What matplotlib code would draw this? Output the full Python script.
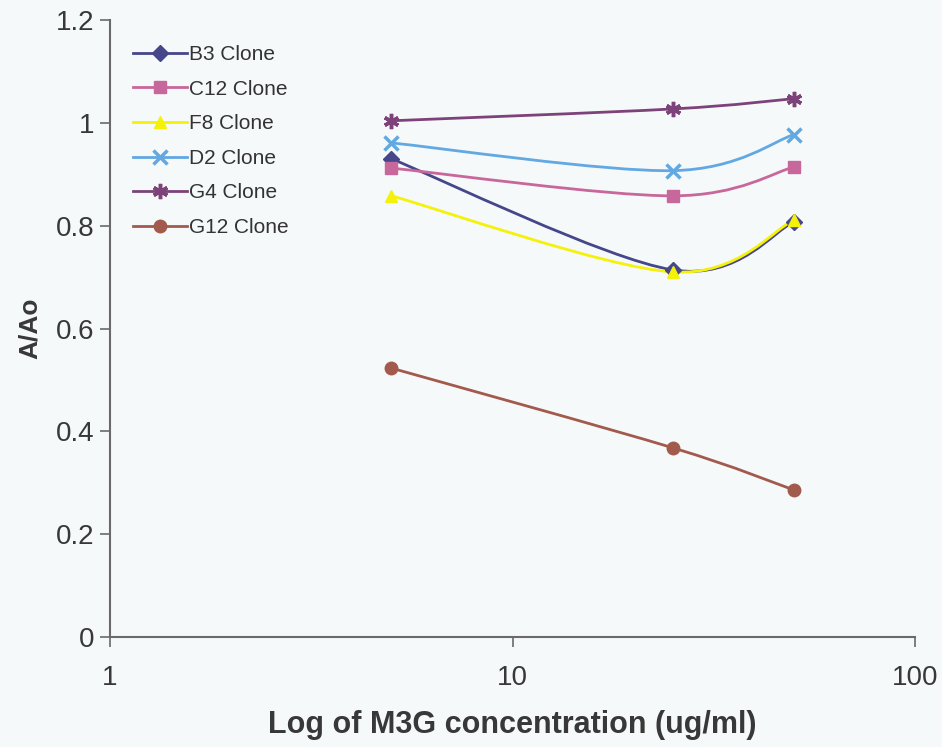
import numpy as np
import matplotlib.pyplot as plt
from matplotlib.path import Path
from matplotlib.patches import PathPatch
from matplotlib.lines import Line2D
from matplotlib.ticker import FixedLocator, NullLocator

plt.rcParams['font.family'] = ['Liberation Sans', 'DejaVu Sans']

conc = [5, 25, 50]
b3 = [0.930, 0.714, 0.807]
c12 = [0.912, 0.858, 0.914]
f8 = [0.858, 0.710, 0.811]
d2 = [0.961, 0.907, 0.977]
g4 = [1.004, 1.027, 1.047]
g12 = [0.523, 0.368, 0.286]

names = ['B3 Clone', 'C12 Clone', 'F8 Clone', 'D2 Clone', 'G4 Clone', 'G12 Clone']
series = [b3, c12, f8, d2, g4, g12]
colors = ['#46468a', '#c8679b', '#f4f20a', '#62a8e2', '#7d4279', '#a25a4c']
markers = ['D', 's', '^', 'x', (6, 2, 0), 'o']
msizes = [8, 8, 9, 10, 11, 9]


def smooth_path(xs, ys):
    # excel style smoothed line: bezier through points, done in log-x space
    px = np.log10(xs)
    py = np.array(ys, dtype=float)
    n = len(px)
    verts = [(px[0], py[0])]
    codes = [Path.MOVETO]
    for i in range(n - 1):
        i0 = max(i - 1, 0)
        i3 = min(i + 2, n - 1)
        c1 = (px[i] + (px[i + 1] - px[i0]) / 6, py[i] + (py[i + 1] - py[i0]) / 6)
        c2 = (px[i + 1] - (px[i3] - px[i]) / 6, py[i + 1] - (py[i3] - py[i]) / 6)
        verts += [c1, c2, (px[i + 1], py[i + 1])]
        codes += [Path.CURVE4] * 3
    verts = [(10 ** vx, vy) for vx, vy in verts]
    return Path(verts, codes)


fig = plt.figure(figsize=(9.42, 7.47), dpi=100)
fig.patch.set_facecolor('#f6f9fa')
ax = fig.add_axes([110 / 942, 110 / 747, 805 / 942, 617 / 747])
ax.set_facecolor('#f6f9fa')

handles = []
for vals, name, col, mk, ms in zip(series, names, colors, markers, msizes):
    ax.add_patch(PathPatch(smooth_path(conc, vals), fill=False, edgecolor=col, lw=2, zorder=2))
    ax.plot(conc, vals, linestyle='none', marker=mk, color=col, markersize=ms,
            markeredgewidth=2.5 if mk in ('x', (6, 2, 0)) else 1, zorder=3)
    handles.append(Line2D([], [], color=col, lw=2, marker=mk, markersize=ms,
                          markeredgewidth=2.5 if mk in ('x', (6, 2, 0)) else 1))

ax.set_xscale('log')
ax.set_xlim(1, 100)
ax.set_ylim(0, 1.2)
ax.xaxis.set_major_locator(FixedLocator([1, 10, 100]))
ax.xaxis.set_minor_locator(NullLocator())
ax.set_xticklabels(['1', '10', '100'])
ax.set_yticks([0, 0.2, 0.4, 0.6, 0.8, 1.0, 1.2])
ax.set_yticklabels(['0', '0.2', '0.4', '0.6', '0.8', '1', '1.2'])

for s in ['top', 'right']:
    ax.spines[s].set_visible(False)
for s in ['left', 'bottom']:
    ax.spines[s].set_color('#6a6a6a')
    ax.spines[s].set_linewidth(1.5)
ax.tick_params(axis='both', colors='#6a6a6a', length=7, width=1.2, labelsize=20,
               labelcolor='#383838')
ax.tick_params(axis='x', pad=13)
ax.tick_params(axis='y', pad=4)

ax.set_xlabel('Log of M3G concentration (ug/ml)', fontsize=22, fontweight='bold',
              color='#383838', labelpad=14)
ax.set_ylabel('A/Ao', fontsize=19, fontweight='bold', color='#383838', labelpad=10)

leg = ax.legend(handles, names, loc='upper left', bbox_to_anchor=(0.005, 0.99),
                frameon=False, fontsize=15, handlelength=2.6, handletextpad=0.1,
                labelspacing=0.75, labelcolor='#333333')

fig.savefig('out.png', dpi=100, facecolor=fig.get_facecolor())
